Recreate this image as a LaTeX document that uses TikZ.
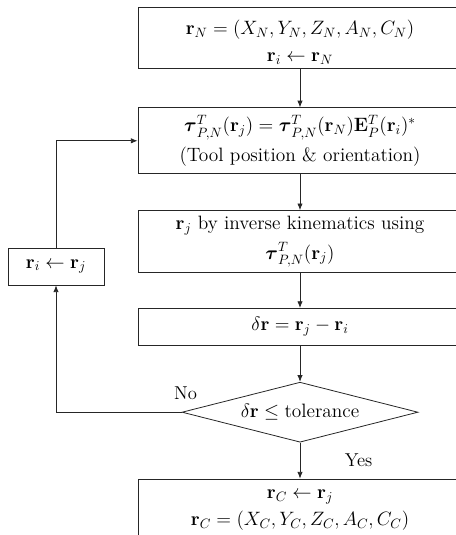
\RequirePackage{fix-cm}
\documentclass[tikz,border=0pt]{standalone}
\usepackage{amsmath,amssymb}
\usepackage{tikz}
\usetikzlibrary{shapes.geometric, arrows.meta, positioning}

\begin{document}
\begin{tikzpicture}[
    x=0.75pt, y=-0.75pt,
    node distance=27pt,
    block/.style={
        rectangle, draw=black!85, line width=0.6pt,
        minimum width=243pt, align=center, inner sep=2pt,
        font=\fontsize{14.5}{20.5}\selectfont
    },
    smallblock/.style={
        rectangle, draw=black!85, line width=0.6pt,
        minimum width=72pt, minimum height=27.75pt, align=center,
        font=\fontsize{14.5}{20.5}\selectfont
    },
    decision/.style={
        diamond, draw=black!85, line width=0.6pt, aspect=3.9,
        minimum width=177pt, minimum height=45pt, inner sep=1pt,
        font=\fontsize{14.5}{20.5}\selectfont
    },
    arrow/.style={-{Latex[length=5pt, width=4pt]}, line width=0.6pt, draw=black!85},
    label/.style={font=\fontsize{14}{17}\selectfont}
]
\clip (0,0) rectangle (456,535);

% Start: nominal pose
\node[block, minimum height=45.75pt] (start) at (300,37.5)
    {\rule{0pt}{18pt}$\mathbf{r}_N=(X_N,Y_N,Z_N,A_N,C_N)$\\ $\mathbf{r}_i\leftarrow\mathbf{r}_N$};

% Tool pose
\node[block, minimum height=49.5pt, below=29.25pt of start] (tool)
    {$\boldsymbol{\tau}^T_{P,N}(\mathbf{r}_j)=\boldsymbol{\tau}^T_{P,N}(\mathbf{r}_N)\mathbf{E}^T_P(\mathbf{r}_i)^*$\\[1.5pt] (Tool position \& orientation)};

% Inverse kinematics
\node[block, minimum height=46.5pt, below=27pt of tool] (invkin)
    {$\mathbf{r}_j$ by inverse kinematics using\\[1.5pt] $\boldsymbol{\tau}^T_{P,N}(\mathbf{r}_j)$};

% Difference
\node[block, minimum height=27.75pt, below=26.25pt of invkin] (diff)
    {$\delta\mathbf{r}=\mathbf{r}_j-\mathbf{r}_i$};

% Check
\node[decision, below=27pt of diff] (check) {$\delta\mathbf{r}\le{}$tolerance};

% Compensated pose
\node[block, minimum height=46.5pt, below=27pt of check] (result)
    {$\mathbf{r}_C\leftarrow\mathbf{r}_j$\\ $\mathbf{r}_C=(X_C,Y_C,Z_C,A_C,C_C)$};

% Update
\node[smallblock] (update) at (56,266.5) {$\mathbf{r}_i\leftarrow\mathbf{r}_j$};

% Main flow
\draw[arrow] (start) -- (tool);
\draw[arrow] (tool) -- (invkin);
\draw[arrow] (invkin) -- (diff);
\draw[arrow] (diff) -- (check);
\draw[arrow] (check) -- node[label, right, xshift=30pt] {Yes} (result);

% Loop back
\draw[arrow] (check.west) -| (update.south);
\draw[arrow] (update.north) |- (tool.west);
\node[label, above=6pt of check.west, xshift=3pt] (no) {No};

\end{tikzpicture}
\end{document}
